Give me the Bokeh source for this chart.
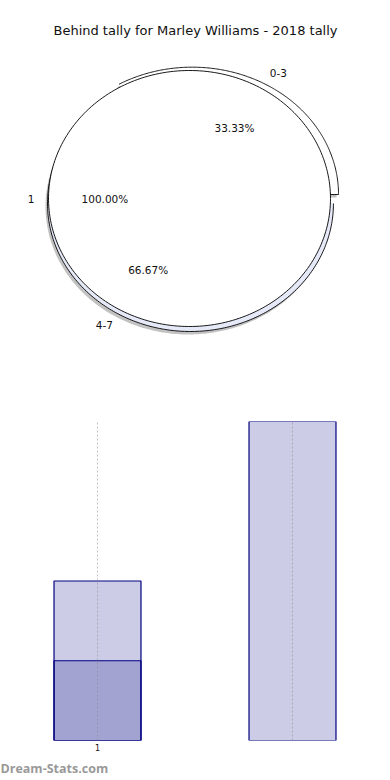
import numpy as np
from bokeh.plotting import figure
from bokeh.layouts import column
from bokeh.models import Range1d, FixedTicker, Label, Title
from bokeh.embed import file_html
from bokeh.resources import INLINE
from bokeh.core.properties import value

# ---------------- data ----------------
title_text = "Behind tally for Marley Williams - 2018 tally"
inner_labels = ["1"]
inner_values = [1]
outer_labels = ["0-3", "4-7"]
outer_values = [1, 2]

bar_positions = [0, 0, 1]
bar_heights = [2, 1, 4]
bar_tick_positions = [0, 1]
bar_tick_labels = ["1", ""]
watermark_text = "Dream-Stats.com"

# ---------------- pie figure ----------------
W = 390
PIE_H = 380
PX_X = 141.0  # px per unit, x
PX_Y = 128.0  # px per unit, y
CX, CY = 189.0, 198.0  # pie centre, figure px from left / top

pie = figure(width=W, height=PIE_H, output_backend="svg", toolbar_location=None,
             x_range=Range1d(-CX / PX_X, (W - CX) / PX_X),
             y_range=Range1d(-(PIE_H - CY) / PX_Y, CY / PX_Y),
             min_border=0, x_axis_location=None, y_axis_location=None)
pie.outline_line_color = None
pie.xgrid.visible = False
pie.ygrid.visible = False
pie.background_fill_color = "white"
pie.border_fill_color = "white"


def ellipse_arc(t0, t1, ox, oy, rx, ry, n=240):
    t = np.linspace(t0, t1, n)
    return list(ox + rx * np.cos(t)), list(oy + ry * np.sin(t))


outer_fracs = np.array(outer_values, dtype=float) / sum(outer_values)
outer_cum = np.concatenate([[0], np.cumsum(outer_fracs)]) * 2 * np.pi
# explode offsets / radii (styling) per outer slice
outer_style = [
    dict(ox=0.019, oy=0.031, rx=1.038, ry=0.995, fill="white"),
    dict(ox=0.007, oy=-0.039, rx=1.014, ry=1.0, fill="#e6e9f8"),
]

# shadows
sh_dx, sh_dy = -2 / PX_X, -3 / PX_Y
for i in range(len(outer_values)):
    st = outer_style[i]
    xs, ys = ellipse_arc(outer_cum[i], outer_cum[i + 1], st["ox"] + sh_dx, st["oy"] + sh_dy, st["rx"], st["ry"])
    pie.patch([st["ox"] + sh_dx] + xs, [st["oy"] + sh_dy] + ys, fill_color="#777777", fill_alpha=0.45, line_color=None)

for i in range(len(outer_values)):
    st = outer_style[i]
    xs, ys = ellipse_arc(outer_cum[i], outer_cum[i + 1], st["ox"], st["oy"], st["rx"], st["ry"])
    pie.patch([st["ox"]] + xs, [st["oy"]] + ys, fill_color=st["fill"], line_color=None)
    pie.line([st["ox"]] + xs, [st["oy"]] + ys, line_color="black", line_width=0.9)

inner_fracs = np.array(inner_values, dtype=float) / sum(inner_values)
inner_cum = np.concatenate([[0], np.cumsum(inner_fracs)]) * 2 * np.pi
for i in range(len(inner_values)):
    xs, ys = ellipse_arc(inner_cum[i], inner_cum[i + 1], 0.0, 0.0, 1.0, 1.0)
    if inner_fracs[i] < 0.9999:
        xs, ys = [0.0] + xs + [0.0], [0.0] + ys + [0.0]
    pie.patch(xs, ys, fill_color="white", line_color="black", line_width=0.9)

FONT = value("DejaVu Sans")
lab_x, lab_y, lab_t, lab_align = [], [], [], []
pct_x, pct_y, pct_t = [], [], []
for i in range(len(outer_values)):
    st = outer_style[i]
    mid = (outer_cum[i] + outer_cum[i + 1]) / 2
    lx = st["ox"] + 1.1 * np.cos(mid)
    ly = st["oy"] + 1.1 * np.sin(mid)
    lab_x.append(lx); lab_y.append(ly); lab_t.append(outer_labels[i])
    lab_align.append("left" if lx > 0 else "right")
    pct_x.append(st["ox"] + 0.6 * np.cos(mid))
    pct_y.append(st["oy"] + 0.6 * np.sin(mid))
    pct_t.append("%.2f%%" % (100 * outer_fracs[i]))
for i in range(len(inner_values)):
    mid = np.pi if inner_fracs[i] >= 0.9999 else (inner_cum[i] + inner_cum[i + 1]) / 2
    lx = 1.1 * np.cos(mid)
    ly = 1.1 * np.sin(mid)
    lab_x.append(lx); lab_y.append(ly); lab_t.append(inner_labels[i])
    lab_align.append("left" if lx > 0 else "right")
    pct_x.append(0.6 * np.cos(mid)); pct_y.append(0.6 * np.sin(mid))
    pct_t.append("%.2f%%" % (100 * inner_fracs[i]))

pie.text(x=lab_x, y=lab_y, text=lab_t, text_align=lab_align, text_baseline="middle",
         text_font=FONT, text_font_size="10.5px", text_color="#111111")
pie.text(x=pct_x, y=pct_y, text=pct_t, text_align="center", text_baseline="middle",
         text_font=FONT, text_font_size="10.5px", text_color="#111111")

pie.add_layout(Label(x=195, y=PIE_H - 30, x_units="screen", y_units="screen", text=title_text,
                     text_align="center", text_baseline="middle", text_font="DejaVu Sans",
                     text_font_size="13px", text_color="#111111"))

# ---------------- bar figure ----------------
BAR_H = 400
PX_U = 195.0
X0 = 97.0
bars = figure(width=W, height=BAR_H, output_backend="svg", toolbar_location=None,
              x_range=Range1d(-X0 / PX_U, (W - X0) / PX_U),
              y_range=Range1d(0, max(bar_heights)),
              min_border_left=0, min_border_right=0, min_border_top=41, min_border_bottom=40,
              y_axis_location=None)
bars.outline_line_color = None
bars.background_fill_color = "white"
bars.border_fill_color = "white"
bars.vbar(x=bar_positions, top=bar_heights, bottom=0, width=0.446,
          fill_color="navy", fill_alpha=0.2, line_color="navy", line_width=1.2)
bars.xaxis.ticker = FixedTicker(ticks=bar_tick_positions)
bars.xaxis.major_label_overrides = {t: l for t, l in zip(bar_tick_positions, bar_tick_labels)}
bars.xaxis.axis_line_color = None
bars.xaxis.major_tick_line_color = None
bars.xaxis.major_tick_out = 0
bars.xaxis.major_tick_in = 0
bars.xaxis.minor_tick_line_color = None
bars.xaxis.major_label_text_font_size = "8px"
bars.xaxis.major_label_text_font = "DejaVu Sans"
bars.xaxis.major_label_standoff = 3
bars.xaxis.major_label_text_color = "#111111"
bars.ygrid.visible = False
bars.xgrid.ticker = FixedTicker(ticks=bar_tick_positions)
bars.xgrid.grid_line_color = "#888888"
bars.xgrid.grid_line_alpha = 0.5
bars.xgrid.grid_line_dash = "2 2"
bars.xgrid.grid_line_width = 1
bars.xgrid.level = "overlay"

bars.add_layout(Title(text=watermark_text, align="left", offset=0, standoff=8,
                      text_font="Open Sans", text_font_style="bold", text_font_size="12.5px",
                      text_color="#999999"), "below")

layout = column(pie, bars, spacing=0)
open("out.html", "w").write(file_html(layout, INLINE))
